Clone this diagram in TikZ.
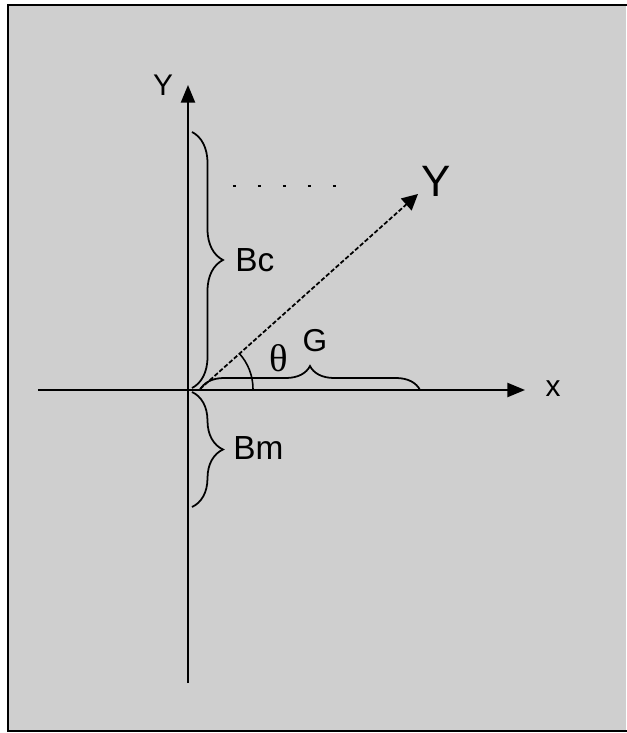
\documentclass[tikz,border=0pt]{standalone}
\usepackage{fontspec}
\setmainfont{Liberation Sans}
\newfontfamily\greekserif{Liberation Serif}
\definecolor{bggray}{RGB}{207,207,207}
\usetikzlibrary{arrows.meta,decorations.pathreplacing,positioning}

\begin{document}
\begin{tikzpicture}[
  axis/.style={line width=1.1pt,-{Triangle[length=10pt,width=8pt]}},
  vec/.style={line width=1pt,dash pattern=on 2.5pt off 1.2pt,-{Triangle[length=9pt,width=9pt]}},
  measure/.style={line width=1pt,decorate,decoration={brace,amplitude=#1}},
  measure/.default=0.62cm,
  lbl/.style={font=\fontsize{19}{19}\selectfont,inner sep=0pt}]
  % Frame
  \useasboundingbox (-3.76,-6.86) rectangle (8.76,7.8);
  \fill[bggray] (-3.6,-6.82) rectangle (8.76,7.7);
  \draw[line width=1.5pt] (8.8,7.7) -- (-3.6,7.7) -- (-3.6,-6.82) -- (8.8,-6.82);
  % Axes
  \coordinate (O) at (0,0);
  \coordinate (xstart) at (-3.0,0);
  \coordinate (xtip) at (6.74,0);
  \coordinate (ystart) at (0,-5.86);
  \coordinate (ytip) at (0,6.1);
  \draw[axis] (xstart) -- (xtip);
  \draw[axis] (ystart) -- (ytip);
  \node[lbl,font=\fontsize{17}{17}\selectfont] (xlbl) at (7.3,0.02) {x};
  \node[lbl,font=\fontsize{17}{17}\selectfont] (ylbl) at (-0.5,6.1) {Y};
  % Vector Y
  \coordinate (vstart) at (0.24,0.02);
  \coordinate (vtip) at (4.6,3.92);
  \draw[vec] (vstart) -- (vtip);
  \node[lbl,font=\fontsize{25}{25}\selectfont] (vlbl) at (4.96,4.18) {Y};
  \coordinate (dotA) at (0.9,4.08);
  \coordinate (dotB) at (3.14,4.08);
  \draw[line width=1.4pt,dash pattern=on 1.6pt off 12.6pt] (dotA) -- (dotB);
  % Angle theta
  \draw[line width=0.9pt] ([shift={(0:1.06)}]vstart) arc[start angle=0,end angle=42,radius=1.06];
  \node[lbl,font=\greekserif\fontsize{22}{22}\selectfont] (theta) at (1.82,0.64) {θ};
  % Braces
  \coordinate (bctop) at (0.08,5.16);
  \coordinate (bcbot) at (0.08,0.04);
  \draw[measure] (bctop) -- (bcbot);
  \node[lbl,anchor=west] (bc) at (0.94,2.6) {Bc};
  \coordinate (bmtop) at (0.08,-0.04);
  \coordinate (bmbot) at (0.08,-2.34);
  \draw[measure] (bmtop) -- (bmbot);
  \node[lbl,anchor=west] (bm) at (0.9,-1.16) {Bm};
  \coordinate (gleft) at (0.24,0);
  \coordinate (gright) at (4.64,0);
  \draw[measure=0.48cm] (gleft) -- (gright);
  \node[lbl,font=\fontsize{18}{18}\selectfont] (g) at (2.54,0.98) {G};
\end{tikzpicture}
\end{document}
